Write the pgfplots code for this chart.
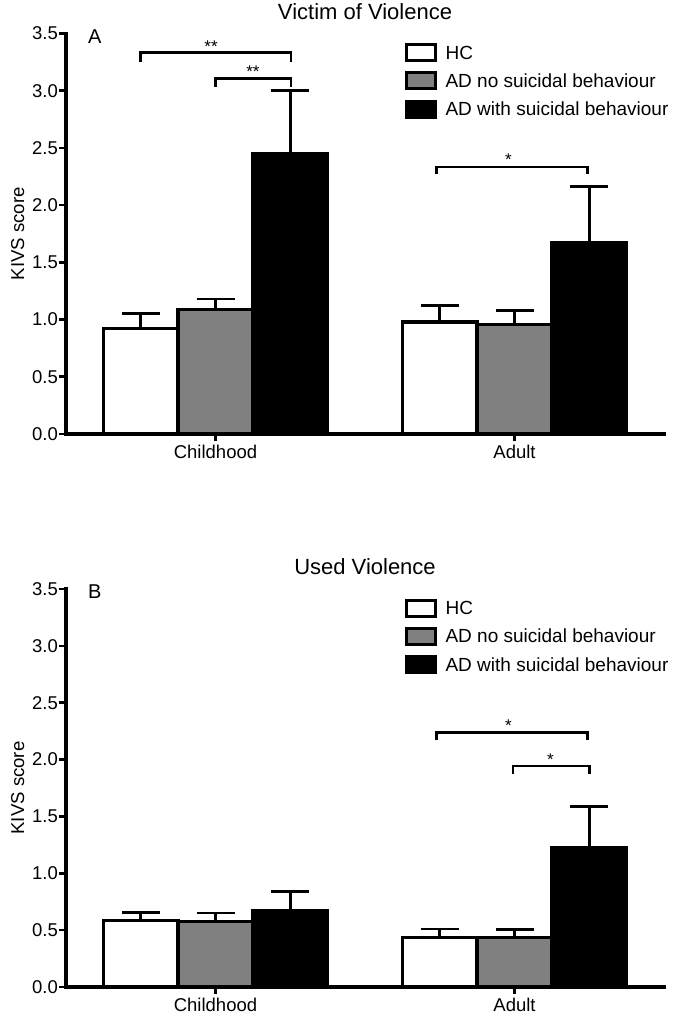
\documentclass[border=0pt]{standalone}
\usepackage{fontspec}
\setmainfont{Liberation Sans}
\usepackage{pgfplots}
\pgfplotsset{compat=1.18}
\usepackage{pgfplotstable}

% Group centres: Childhood = 0, Adult = 1; bars at -0.25 / 0 / +0.25 around them.
% e = upper error (SEM)
% Panel A: Victim of Violence
\pgfplotstableread{
x y e
-0.25 0.925 0.125
0.75 0.980 0.145
}\AHC
\pgfplotstableread{
x y e
0 1.085 0.095
1 0.955 0.125
}\AADno
\pgfplotstableread{
x y e
0.25 2.450 0.550
1.25 1.670 0.490
}\AADsb
% Panel B: Used Violence
\pgfplotstableread{
x y e
-0.25 0.583 0.073
0.75 0.437 0.073
}\BHC
\pgfplotstableread{
x y e
0 0.574 0.076
1 0.437 0.067
}\BADno
\pgfplotstableread{
x y e
0.25 0.670 0.167
1.25 1.225 0.360
}\BADsb

\definecolor{bargray}{HTML}{808080}

\pgfplotsset{
  panel/.style={
    scale only axis, width=598pt,
    xmin=-0.5, xmax=1.5, ymin=0, ymax=3.5,
    axis lines*=left,
    axis line style={line width=3.3pt, line cap=rect, black},
    xtick={0,1}, xticklabels={Childhood,Adult},
    ytick={0,0.5,1,1.5,2,2.5,3,3.5},
    /pgf/number format/assume math mode=true,
    yticklabel={\pgfmathprintnumber[fixed,fixed zerofill,precision=1,assume math mode=true]{\tick}},
    tick align=outside, major tick length=7pt,
    tick style={line width=2.6pt, black},
    ticklabel style={font=\fontsize{18.5}{20}\selectfont},
    yticklabel style={inner sep=1pt},
    xticklabel style={inner sep=0pt, yshift=-4pt},
    ylabel={KIVS score},
    ylabel style={at={(axis description cs:-0.0702,0.5)}, anchor=base, font=\fontsize{18.6}{21}\selectfont},
    clip=false,
    legend style={at={(0.567,0.976)}, anchor=north west, draw=none, fill=none,
      inner sep=0pt, outer sep=0pt, row sep=9.3pt, column sep=8.5pt,
      font=\fontsize{19}{21}\selectfont,
      nodes={inner sep=0pt, text height=15.5pt, text depth=2.5pt}},
    legend cell align=left,
  },
  bars/.style={ybar, bar width=0.25, bar shift=0pt, draw=black, line width=3.3pt,
    /pgfplots/error bars/y dir=plus, /pgfplots/error bars/y explicit,
    /pgfplots/error bars/error bar style={line width=2.8pt, black},
    /pgfplots/error bars/error mark options={rotate=90, mark size=19pt, line width=2.8pt, black}},
  brk/.style={black, line width=2.7pt, sharp plot, forget plot, mark=none},
  sw/.style={legend image code/.code={\draw[line width=3pt, fill=#1] (0pt,-8pt) rectangle (29pt,8pt);}},
}

\begin{document}
\begin{tikzpicture}
\path[use as bounding box] (0pt,0pt) rectangle (685pt,-1019pt);

% ---------------- Panel A ----------------
\begin{axis}[panel, at={(66pt,-434pt)}, anchor=south west, height=400.5pt,
  title={Victim of Violence},
  title style={at={(0.5,1)}, anchor=base, yshift=8.5pt, inner sep=0pt, font=\fontsize{22}{24}\selectfont}]
\addplot[bars, fill=white, sw=white] table[x=x, y=y, y error=e] {\AHC};
\addlegendentry{HC}
\addplot[bars, fill=bargray, sw=bargray] table[x=x, y=y, y error=e] {\AADno};
\addlegendentry{AD no suicidal behaviour}
\addplot[bars, fill=black, sw=black] table[x=x, y=y, y error=e] {\AADsb};
\addlegendentry{AD with suicidal behaviour}
% significance brackets
\addplot[brk] coordinates {(-0.252,3.255) (-0.252,3.331) (0.252,3.331) (0.252,3.255)};
\addplot[brk] coordinates {(0,3.036) (0,3.106) (0.252,3.106) (0.252,3.036)};
\addplot[brk] coordinates {(0.74,2.275) (0.74,2.333) (1.245,2.333) (1.245,2.275)};
\node[anchor=base, inner sep=0pt, font=\fontsize{17}{18}\selectfont] at (axis cs:-0.015,3.335) {**};
\node[anchor=base, inner sep=0pt, font=\fontsize{17}{18}\selectfont] at (axis cs:0.125,3.113) {**};
\node[anchor=base, inner sep=0pt, font=\fontsize{17}{18}\selectfont] at (axis cs:0.98,2.346) {*};
\node[anchor=base west, inner sep=0pt, font=\fontsize{20}{24}\selectfont] at (rel axis cs:0.0368,0.974) {A};
\end{axis}

% ---------------- Panel B ----------------
\begin{axis}[panel, at={(66pt,-987pt)}, anchor=south west, height=398pt,
  title={Used Violence},
  title style={at={(0.5,1)}, anchor=base, yshift=9pt, inner sep=0pt, font=\fontsize{22}{24}\selectfont}]
\addplot[bars, fill=white, sw=white] table[x=x, y=y, y error=e] {\BHC};
\addlegendentry{HC}
\addplot[bars, fill=bargray, sw=bargray] table[x=x, y=y, y error=e] {\BADno};
\addlegendentry{AD no suicidal behaviour}
\addplot[bars, fill=black, sw=black] table[x=x, y=y, y error=e] {\BADsb};
\addlegendentry{AD with suicidal behaviour}
\addplot[brk] coordinates {(0.74,2.172) (0.74,2.24) (1.245,2.24) (1.245,2.172)};
\addplot[brk] coordinates {(0.995,1.873) (0.995,1.944) (1.25,1.944) (1.25,1.873)};
\node[anchor=base, inner sep=0pt, font=\fontsize{17}{18}\selectfont] at (axis cs:0.98,2.247) {*};
\node[anchor=base, inner sep=0pt, font=\fontsize{17}{18}\selectfont] at (axis cs:1.12,1.945) {*};
\node[anchor=base west, inner sep=0pt, font=\fontsize{20}{24}\selectfont] at (rel axis cs:0.0368,0.975) {B};
\end{axis}
\end{tikzpicture}
\end{document}
